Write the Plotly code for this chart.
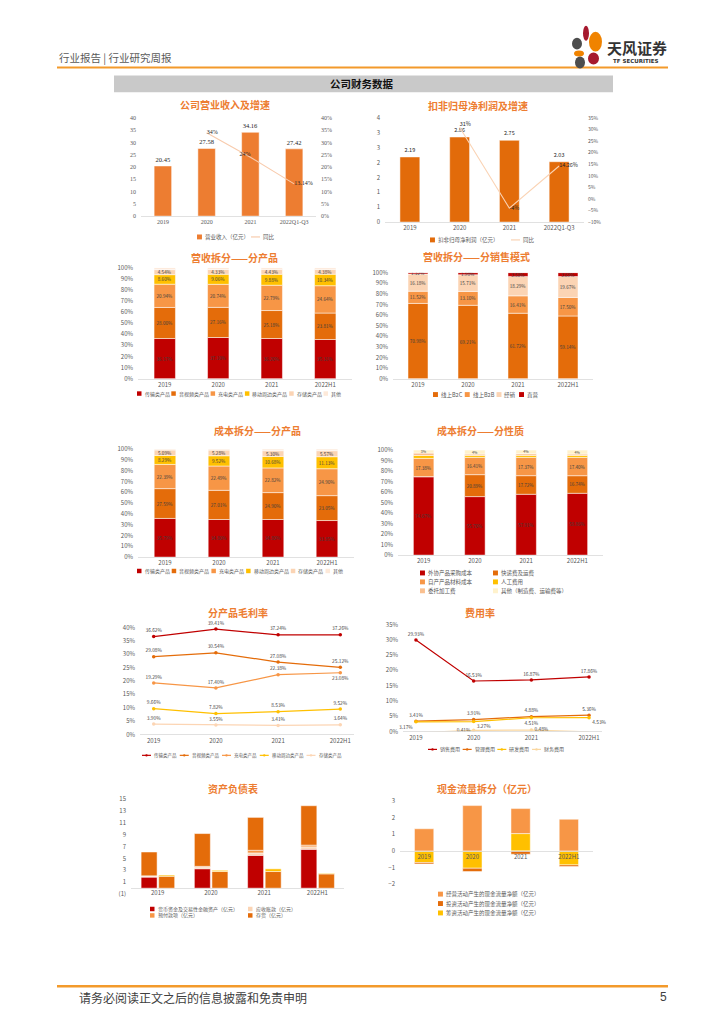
import plotly.graph_objects as go

W, H = 724, 1024
def PX(x): return x / W
def PY(y): return 1 - y / H

CJK = "Noto Sans CJK SC"
SERIF = "Liberation Serif"
GREY = "#595959"
DARK = "#3F3F3F"
TITLE_C = "#ED7D31"
RED, DORANGE, LORANGE, YELLOW = "#C00000", "#E46C0A", "#F79646", "#FFC000"
PEACH, CREAM = "#FBD4B4", "#FDE9D9"

# ---------------- data ----------------
years = ["2019", "2020", "2021", "2022H1"]
rev_years = ["2019", "2020", "2021", "2022Q1-Q3"]

revenue = [20.45, 27.58, 34.16, 27.42]
revenue_yoy = [None, 0.34, 0.24, 0.1314]
revenue_yoy_text = ["", "34%", "24%", "13.14%"]

profit = [2.19, 2.86, 2.75, 2.03]
profit_yoy = [None, 0.31, -0.04, 0.1426]
profit_yoy_text = ["", "31%", "-4%", "14.26%"]
p2_left_tickvals = [0, 0.5, 1, 1.5, 2, 2.5, 3, 3.5]
p2_left_ticktext = ["0", "1", "1", "2", "2", "3", "3", "4"]

product_names = ["传输类产品", "音视频类产品", "充电类产品", "移动周边类产品", "存储类产品", "其他"]
rp_trans = [36.17, 37.10, 36.20, 35.31]
rp_av = [28.00, 27.16, 25.18, 23.81]
rp_charge = [20.94, 20.74, 22.79, 24.64]
rp_mobile = [8.60, 9.06, 9.88, 10.34]
rp_storage = [4.54, 4.33, 4.43, 4.38]
rp_other = [1.75, 1.61, 1.52, 1.52]

mode_names = ["线上B2C", "线上B2B", "经销", "直营"]
sm_b2c = [70.98, 69.21, 61.72, 59.14]
sm_b2b = [11.52, 13.10, 16.41, 17.50]
sm_dist = [16.18, 15.71, 18.29, 19.67]
sm_direct = [1.32, 1.98, 3.58, 3.69]

cp_trans = [35.79, 34.80, 34.80, 33.85]
cp_av = [27.59, 27.01, 24.90, 23.05]
cp_charge = [22.39, 22.49, 22.82, 24.90]
cp_mobile = [8.29, 9.52, 10.68, 11.13]
cp_storage = [5.09, 5.28, 5.30, 5.57]
cp_other = [0.85, 0.90, 1.50, 1.50]

nature_names = ["外协产品采购成本", "快递费及运费", "自产产品材料成本", "人工费用", "委托加工费", "其他（制造费、运输费等）"]
cn_outsource = [74.67, 55.70, 57.91, 58.86]
cn_freight = [0.00, 20.89, 17.72, 16.74]
cn_material = [17.38, 16.41, 17.37, 17.40]
cn_labor = [2.79, 1.90, 1.90, 1.90]
cn_processing = [2.31, 1.30, 1.60, 1.30]
cn_other = [2.85, 3.80, 3.50, 3.80]

gm_trans = [36.62, 39.41, 37.24, 37.26]
gm_av = [29.08, 30.54, 27.08, 25.12]
gm_charge = [19.29, 17.40, 22.38, 23.08]
gm_mobile = [9.66, 7.82, 8.53, 9.52]
gm_storage = [3.90, 3.55, 3.41, 3.64]

expense_names = ["销售费用", "管理费用", "研发费用", "财务费用"]
ex_sales = [29.93, 16.53, 16.87, 17.86]
ex_admin = [3.41, 3.91, 4.88, 5.36]
ex_rd = [3.17, 3.27, 4.51, 4.53]
ex_fin = [-0.40, 0.41, 0.48, -0.07]

bs_names = ["货币资金及交易性金融资产（亿元）", "应收账款（亿元）", "预付款项（亿元）", "存货（亿元）"]
bs_cash = [1.86, 3.27, 5.52, 6.54]
bs_receivable = [0.17, 0.30, 0.40, 0.40]
bs_prepay = [0.05, 0.10, 0.45, 0.30]
bs_inventory = [4.00, 5.51, 5.53, 6.62]
bs_payable = [2.00, 2.80, 2.80, 2.40]
bs_notes = [0.20, 0.20, 0.45, 0.10]
p9_tickvals = [-1, 1, 3, 5, 7, 9, 11, 13, 15]
p9_ticktext = ["(1)", "1", "3", "5", "7", "9", "11", "13", "15"]

cf_names = ["经营活动产生的现金流量净额（亿元）", "投资活动产生的现金流量净额（亿元）", "筹资活动产生的现金流量净额（亿元）"]
cf_operating = [1.33, 2.72, 1.50, 1.90]
cf_investing = [-0.08, -0.20, -0.20, -0.10]
cf_financing = [-0.70, -1.04, 1.04, -0.84]

# ---------------- layout helpers ----------------
boxes = {
    1: (141, 316, 114, 213),
    2: (385, 584, 114, 219),
    3: (138, 352, 265, 377),
    4: (393, 593, 270, 377),
    5: (138, 354, 448, 557),
    6: (398, 603, 449, 555),
    7: (140, 354, 628, 736),
    8: (403, 602, 625, 733),
    9: (131, 344, 801, 897),
    10: (400, 593, 803, 887),
}

def ax(i):
    return "" if i == 1 else str(i)

layout = dict(
    width=W, height=H, margin=dict(l=0, r=0, t=0, b=0),
    paper_bgcolor="white", plot_bgcolor="white", showlegend=False,
    barmode="relative", bargap=0.6,
    font=dict(family=CJK, size=6, color=GREY),
)

for i, (x0, x1, yt, yb) in boxes.items():
    layout["xaxis" + ax(i)] = dict(
        domain=[PX(x0), PX(x1)], anchor="y" + ax(i), showgrid=False, zeroline=False,
        showline=True, linecolor="#D9D9D9", linewidth=0.8, ticks="",
        tickfont=dict(size=6, color=GREY), fixedrange=True)
    layout["yaxis" + ax(i)] = dict(
        domain=[PY(yb), PY(yt)], anchor="x" + ax(i), showgrid=False, zeroline=False,
        showline=False, ticks="", tickfont=dict(size=6, color=GREY),
        ticklabelstandoff=4, fixedrange=True)

# panel 1
layout["xaxis"]["tickfont"] = dict(size=6, color=GREY, family=SERIF)
layout["yaxis"].update(range=[0, 40], dtick=5, tickfont=dict(size=6, color=GREY, family=SERIF))
layout["yaxis11"] = dict(overlaying="y", anchor="x", side="right", range=[0, 0.40], dtick=0.05,
                         tickformat=".0%", showgrid=False, zeroline=False, ticks="",
                         tickfont=dict(size=6, color=GREY, family=SERIF), ticklabelstandoff=4)
# panel 2
layout["yaxis2"].update(range=[0, 3.5], tickvals=p2_left_tickvals, ticktext=p2_left_ticktext)
layout["yaxis12"] = dict(overlaying="y2", anchor="x2", side="right", range=[-0.10, 0.35], dtick=0.05,
                         tickformat=".0%", showgrid=False, zeroline=False, ticks="",
                         tickfont=dict(size=5, color=GREY), ticklabelstandoff=3)
for i in (3, 4, 5, 6):
    layout["yaxis" + ax(i)].update(range=[0, 100], dtick=10, ticksuffix="%")
layout["yaxis7"].update(range=[0, 40], dtick=5, ticksuffix="%")
layout["yaxis8"].update(range=[0, 35], dtick=5, ticksuffix="%")
# panel 9 (two stacks per year via an overlaid x axis)
p9_range = [-1, 15]
layout["yaxis9"].update(range=p9_range, tickvals=p9_tickvals, ticktext=p9_ticktext,
                        zeroline=True, zerolinecolor="#D9D9D9", zerolinewidth=0.8)
x9b, x9t, y9t, y9b = boxes[9]
zero9 = y9t + (p9_range[1] - 0) / (p9_range[1] - p9_range[0]) * (y9b - y9t)
layout["xaxis9"].update(range=[-0.5, 3.5], tickvals=[0, 1, 2, 3], ticktext=years,
                        anchor="free", position=PY(zero9), showline=False)
layout["xaxis13"] = dict(overlaying="x9", anchor="y9", range=[-0.5, 3.5], visible=False)
# panel 10
p10_range = [-2, 3]
layout["yaxis10"].update(range=p10_range, dtick=1)
x10l, x10r, y10t, y10b = boxes[10]
zero10 = y10t + (p10_range[1] - 0) / (p10_range[1] - p10_range[0]) * (y10b - y10t)
layout["xaxis10"].update(anchor="free", position=PY(zero10))

fig = go.Figure()
edge = dict(color="white", width=0.5)

# ---- panel 1 ----
fig.add_trace(go.Bar(x=rev_years, y=revenue, xaxis="x", yaxis="y", name="营业收入（亿元）",
                     marker=dict(color="#ED7D31", line=edge),
                     text=[f"{v:.2f}" for v in revenue], textposition="outside",
                     textfont=dict(size=6.5, family=SERIF, color="#262626"), cliponaxis=False))
fig.add_trace(go.Scatter(x=rev_years, y=revenue_yoy, xaxis="x", yaxis="y11", name="同比",
                         mode="lines+text", line=dict(color="#F8CBAD", width=1.1),
                         text=revenue_yoy_text,
                         textposition=["middle right", "middle right", "top left", "middle right"],
                         textfont=dict(size=6, family=SERIF, color="#262626"), cliponaxis=False))
# ---- panel 2 ----
fig.add_trace(go.Bar(x=rev_years, y=profit, xaxis="x2", yaxis="y2", name="扣非归母净利润（亿元）",
                     marker=dict(color="#E26B0A", line=edge),
                     text=[f"{v:.2f}" for v in profit], textposition="outside",
                     textfont=dict(size=5.5, color="#262626"), cliponaxis=False))
fig.add_trace(go.Scatter(x=rev_years, y=profit_yoy, xaxis="x2", yaxis="y12", name="同比",
                         mode="lines+text", line=dict(color="#FAD3B4", width=1.1),
                         text=profit_yoy_text,
                         textposition=["top center", "top right", "middle right", "middle right"],
                         textfont=dict(size=5.5, color="#262626"), cliponaxis=False))

def stacked(xa, ya, series, colors, names, label_mask=None, fs=4.6):
    for k, (vals, col, nm) in enumerate(zip(series, colors, names)):
        show = True if label_mask is None else label_mask[k]
        size = fs
        if show == "small":
            txt = [f"{v:.0f}%" if v > 0 else "" for v in vals]
            size = 3.6
        elif show:
            txt = [f"{v:.2f}%" if v > 0 else "" for v in vals]
        else:
            txt = ["" for v in vals]
        fig.add_trace(go.Bar(x=years, y=vals, xaxis=xa, yaxis=ya, name=nm,
                             marker=dict(color=col, line=edge), text=txt,
                             textposition="inside", insidetextanchor="middle", textangle=0,
                             constraintext="none", textfont=dict(size=size, color=DARK)))

prod_colors = [RED, DORANGE, LORANGE, YELLOW, PEACH, CREAM]
stacked("x3", "y3", [rp_trans, rp_av, rp_charge, rp_mobile, rp_storage, rp_other], prod_colors,
        product_names, label_mask=[True, True, True, True, True, False])
mode_colors = [DORANGE, LORANGE, PEACH, RED]
stacked("x4", "y4", [sm_b2c, sm_b2b, sm_dist, sm_direct], mode_colors, mode_names)
stacked("x5", "y5", [cp_trans, cp_av, cp_charge, cp_mobile, cp_storage, cp_other], prod_colors,
        product_names, label_mask=[True, True, True, True, True, False])
nature_colors = [RED, DORANGE, LORANGE, YELLOW, "#FAC090", "#FFF2CC"]
stacked("x6", "y6", [cn_outsource, cn_freight, cn_material, cn_labor, cn_processing, cn_other],
        nature_colors, nature_names, label_mask=[True, True, True, False, False, "small"])

# ---- panel 7 ----
gm_series = [gm_trans, gm_av, gm_charge, gm_mobile, gm_storage]
gm_colors = [RED, DORANGE, LORANGE, YELLOW, "#FCD5B4"]
gm_pos = [["top center"] * 4, ["top center"] * 4,
          ["top center", "top center", "top center", "bottom center"],
          ["top center"] * 4, ["top center"] * 4]
for vals, col, nm, pos in zip(gm_series, gm_colors, product_names[:5], gm_pos):
    fig.add_trace(go.Scatter(x=years, y=vals, xaxis="x7", yaxis="y7", name=nm,
                             mode="lines+markers+text", line=dict(color=col, width=1.2),
                             marker=dict(size=3.5, color=col), text=[f"{v:.2f}%" for v in vals],
                             textposition=pos, textfont=dict(size=4.8, color=DARK), cliponaxis=False))

# ---- panel 8 ----
ex_series = [ex_sales, ex_admin, ex_rd, ex_fin]
ex_colors = [RED, DORANGE, YELLOW, "#FAD7A0"]
ex_pos = [["top center"] * 4, ["top center"] * 4,
          ["bottom left", "bottom right", "bottom center", "bottom right"],
          ["middle right", "middle left", "middle right", "middle right"]]
for vals, col, nm, pos in zip(ex_series, ex_colors, expense_names, ex_pos):
    fig.add_trace(go.Scatter(x=years, y=vals, xaxis="x8", yaxis="y8", name=nm,
                             mode="lines+markers+text", line=dict(color=col, width=1.2),
                             marker=dict(size=3.5, color=col), text=[f"{v:.2f}%" for v in vals],
                             textposition=pos, textfont=dict(size=4.8, color=DARK), cliponaxis=False))

# ---- panel 9 ----
pos9 = [0, 1, 2, 3]
for vals, col, nm in zip([bs_cash, bs_receivable, bs_prepay, bs_inventory],
                         [RED, PEACH, LORANGE, DORANGE], bs_names):
    fig.add_trace(go.Bar(x=pos9, y=vals, xaxis="x9", yaxis="y9", name=nm, width=0.3, offset=-0.31,
                         marker=dict(color=col, line=edge)))
for vals, col, nm in zip([bs_payable, bs_notes], [DORANGE, YELLOW], ["应付账款（亿元）", "应付票据（亿元）"]):
    fig.add_trace(go.Bar(x=pos9, y=vals, xaxis="x13", yaxis="y9", name=nm, width=0.3, offset=0.02,
                         marker=dict(color=col, line=edge)))

# ---- panel 10 (stack order: financing, investing, operating) ----
for vals, col, nm in [(cf_financing, YELLOW, cf_names[2]), (cf_investing, DORANGE, cf_names[1]),
                      (cf_operating, LORANGE, cf_names[0])]:
    fig.add_trace(go.Bar(x=years, y=vals, xaxis="x10", yaxis="y10", name=nm,
                         marker=dict(color=col, line=edge)))

# ---------------- decorations ----------------
shapes, annotations = [], []

def txt(x, y, s, size, color=GREY, bold=False, xanchor="left", family=CJK):
    annotations.append(dict(x=PX(x), y=PY(y), xref="paper", yref="paper",
                            text=f"<b>{s}</b>" if bold else s, showarrow=False,
                            xanchor=xanchor, yanchor="middle", borderpad=0,
                            font=dict(size=size, color=color, family=family)))

def rect(x0, y0, x1, y1, color):
    shapes.append(dict(type="rect", xref="paper", yref="paper", x0=PX(x0), x1=PX(x1),
                       y0=PY(y1), y1=PY(y0), fillcolor=color, line=dict(width=0), layer="above"))

def ellipse(x0, y0, x1, y1, color):
    shapes.append(dict(type="circle", xref="paper", yref="paper", x0=PX(x0), x1=PX(x1),
                       y0=PY(y1), y1=PY(y0), fillcolor=color, line=dict(width=0), layer="above"))

def hline(x0, x1, y, color, w):
    shapes.append(dict(type="line", xref="paper", yref="paper", x0=PX(x0), x1=PX(x1),
                       y0=PY(y), y1=PY(y), line=dict(color=color, width=w), layer="above"))

def cw(s, fs):
    return sum(fs if ord(c) > 0x2E7F else fs * 0.56 for c in s)

def sym_w(kind, fs):
    return fs * 0.9 + 2 if kind == "box" else 11

def legend_item(kind, color, label, x, y, fs):
    if kind == "box":
        s = fs * 0.9
        rect(x, y - s / 2, x + s, y + s / 2, color)
    else:
        hline(x, x + 9, y, color, 1.2)
        if kind == "lm":
            ellipse(x + 3.3, y - 1.2, x + 5.7, y + 1.2, color)
    txt(x + sym_w(kind, fs), y, label, fs)

def legend_row(items, x0, x1, y, fs):
    widths = [sym_w(k, fs) + cw(l, fs) for k, c, l in items]
    gap = (x1 - x0 - sum(widths)) / max(len(items) - 1, 1)
    x = x0
    for (k, c, l), w in zip(items, widths):
        legend_item(k, c, l, x, y, fs)
        x += w + gap

# header
txt(58, 53, "行业报告 | 行业研究周报", 10.5, color="#595959")
hline(57, 668, 63, "#F39A2B", 2)
ellipse(583, 21, 589, 36, "#A6192E")
ellipse(589, 27, 602, 47, "#F08300")
ellipse(572, 33, 582, 45, "#4D4D4D")
ellipse(574, 46, 584, 52, "#F08300")
ellipse(588, 48, 599, 60, "#A6192E")
ellipse(575, 52, 585, 64, "#4D4D4D")
txt(606, 43, "天风证券", 15, color="#333333", bold=True)
txt(612, 56, "TF SECURITIES", 5.5, color="#333333", bold=True, family="DejaVu Sans")
rect(114, 71, 613, 88, "#C9C9C9")
txt(362, 79.5, "公司财务数据", 10.5, color="#111111", bold=True, xanchor="center")

# titles
titles = [(225, 100, "公司营业收入及增速"), (478, 101, "扣非归母净利润及增速"),
          (235, 255, "营收拆分——分产品"), (477, 254, "营收拆分——分销售模式"),
          (257, 429, "成本拆分——分产品"), (480, 429, "成本拆分——分性质"),
          (238, 613, "分产品毛利率"), (480, 613, "费用率"),
          (233, 790, "资产负债表"), (487, 790, "现金流量拆分（亿元）")]
for x, y, s in titles:
    txt(x, y, s, 10, color=TITLE_C, bold=True, xanchor="center")

# legends
legend_row([("box", "#ED7D31", "营业收入（亿元）"), ("line", "#F8CBAD", "同比")], 197, 273, 234, 5.5)
legend_row([("box", "#E26B0A", "扣非归母净利润（亿元）"), ("line", "#FAD3B4", "同比")], 430, 533, 237, 5.5)
legend_row([("box", c, n) for c, n in zip(prod_colors, product_names)], 137, 340, 392, 5)
legend_row([("box", c, n) for c, n in zip(mode_colors, mode_names)], 433, 537, 393, 5.5)
legend_row([("box", c, n) for c, n in zip(prod_colors, product_names)], 137, 342, 571, 5)
for r in range(3):
    legend_item("box", nature_colors[2 * r], nature_names[2 * r], 420, 573 + 9 * r, 5.5)
    legend_item("box", nature_colors[2 * r + 1], nature_names[2 * r + 1], 493, 573 + 9 * r, 5.5)
legend_row([("lm", c, n) for c, n in zip(gm_colors, product_names[:5])], 142, 340, 757, 4.5)
legend_row([("lm", c, n) for c, n in zip(ex_colors, expense_names)], 428, 563, 751, 5)
bs_colors = [RED, PEACH, LORANGE, DORANGE]
for r in range(2):
    legend_item("box", bs_colors[2 * r], bs_names[2 * r], 150, 912 + 6.5 * r, 5)
    legend_item("box", bs_colors[2 * r + 1], bs_names[2 * r + 1], 248, 912 + 6.5 * r, 5)
for r, (c, n) in enumerate(zip([LORANGE, DORANGE, YELLOW], cf_names)):
    legend_item("box", c, n, 438, 897 + 9.5 * r, 5.5)

# footer
hline(57, 668, 990, "#F39A2B", 2.5)
txt(78, 1001, "请务必阅读正文之后的信息披露和免责申明", 12, color="#404040")
txt(663, 1001, "5", 12, color="#404040", xanchor="center", family="Liberation Sans")

layout["shapes"] = shapes
layout["annotations"] = annotations
fig.update_layout(**layout)

fig.write_html("out.html", config={"displayModeBar": False, "staticPlot": True},
               post_script="document.body.style.margin='0px';")
